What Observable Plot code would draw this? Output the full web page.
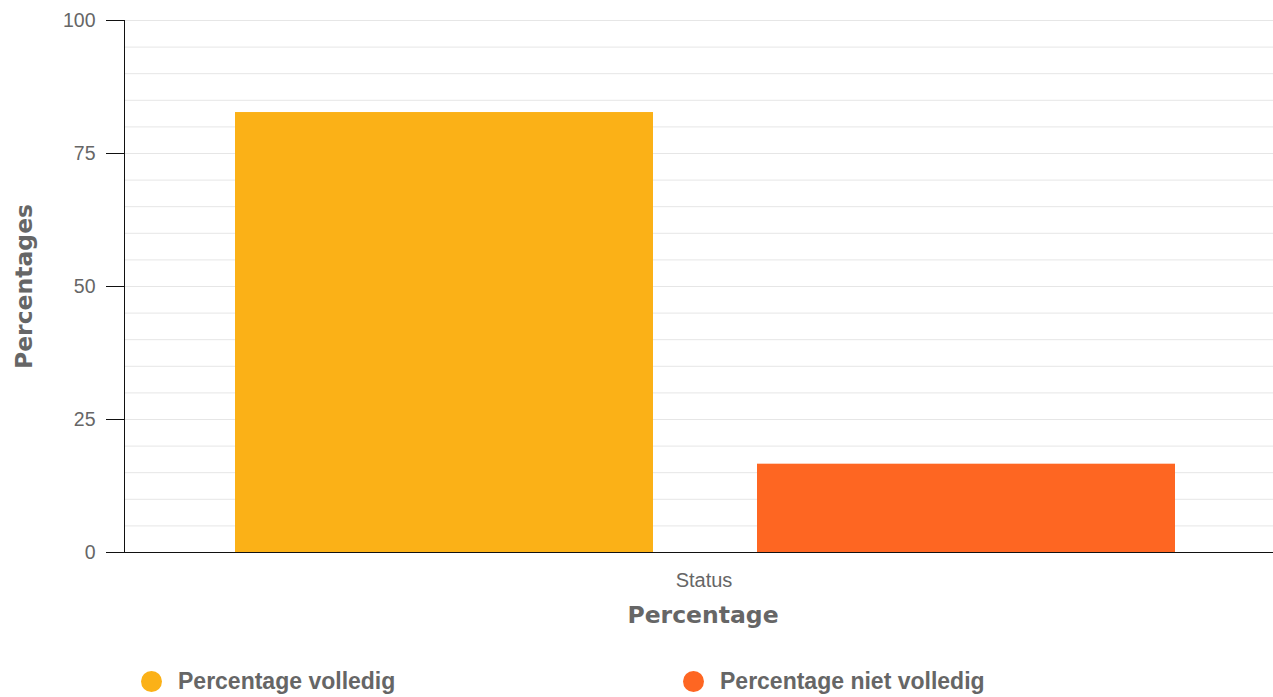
<!DOCTYPE html>
<html>
<head>
<meta charset="utf-8">
<script src="https://cdn.jsdelivr.net/npm/d3@7"></script>
<script src="https://cdn.jsdelivr.net/npm/@observablehq/plot@0.6"></script>
<style>
  html, body { margin: 0; padding: 0; background: #fff; }
  #chart { position: relative; width: 1273px; }
  #legend { position: relative; width: 1273px; height: 57px; }
  .item { position: absolute; top: 28px; display: flex; align-items: center; font-family: "Liberation Sans", Arial, sans-serif; font-weight: bold; font-size: 23px; color: #666; white-space: nowrap; }
  .dot { width: 21px; height: 21px; border-radius: 50%; margin-right: 16px; }
</style>
</head>
<body>
<div id="chart"></div>
<div id="legend"></div>
<script>
const categories = ["Status"];
const series = ["Percentage volledig", "Percentage niet volledig"];
const values = [82.7, 16.6];
const colors = ["#fbb117", "#fe6622"];
const yTicks = [0, 25, 50, 75, 100];
const gridTicks = [0, 5, 10, 15, 20, 25, 30, 35, 40, 45, 50, 55, 60, 65, 70, 75, 80, 85, 90, 95, 100];
const xTitle = "Percentage";
const yTitle = "Percentages";

const data = series.map((s, i) => ({group: categories[0], series: s, value: values[i]}));

const chart = Plot.plot({
  width: 1273,
  height: 640,
  marginTop: 20,
  marginBottom: 88,
  marginLeft: 124,
  marginRight: 0,
  style: {fontFamily: "'Liberation Sans', Arial, sans-serif", fontSize: "19px", color: "#666", background: "#fff"},
  fx: {domain: categories, padding: 0, axis: null, label: null},
  x: {domain: series, padding: 0.2, align: 0.53, axis: null},
  y: {domain: [0, 100], axis: null},
  color: {domain: series, range: colors},
  marks: [
    Plot.gridY(gridTicks, {stroke: "#e6e6e6", strokeOpacity: 1}),
    Plot.barY(data, {fx: "group", x: "series", y: "value", fill: "series"}),
    Plot.frame({anchor: "left", stroke: "#111", strokeOpacity: 1}),
    Plot.ruleY([0], {stroke: "#111"}),
    Plot.axisY(yTicks, {tickSize: 18, tickPadding: 11, fontSize: 19.5, color: "#666", label: null}),
    Plot.axisY(yTicks, {tickSize: 18, text: null, stroke: "#111", label: null}),
    Plot.axisFx({anchor: "bottom", tickSize: 0, tickPadding: 20, fontSize: 20, color: "#666", label: null, dx: 5}),
    Plot.text([xTitle], {frameAnchor: "bottom", dx: 4, dy: 63, fontSize: 23.5, fontWeight: "bold", fontFamily: "'DejaVu Sans', sans-serif", fill: "#666", lineAnchor: "middle"}),
    Plot.text([yTitle], {frameAnchor: "left", dx: -100, rotate: -90, textAnchor: "middle", lineAnchor: "middle", fontSize: 23.5, fontWeight: "bold", fontFamily: "'DejaVu Sans', sans-serif", fill: "#666"})
  ]
});
document.getElementById("chart").appendChild(chart);

const legend = document.getElementById("legend");
series.forEach((s, i) => {
  const item = document.createElement("div");
  item.className = "item";
  item.style.left = (141 + i * 542) + "px";
  const dot = document.createElement("span");
  dot.className = "dot";
  dot.style.background = colors[i];
  const label = document.createElement("span");
  label.textContent = s;
  item.appendChild(dot);
  item.appendChild(label);
  legend.appendChild(item);
});
</script>
</body>
</html>
